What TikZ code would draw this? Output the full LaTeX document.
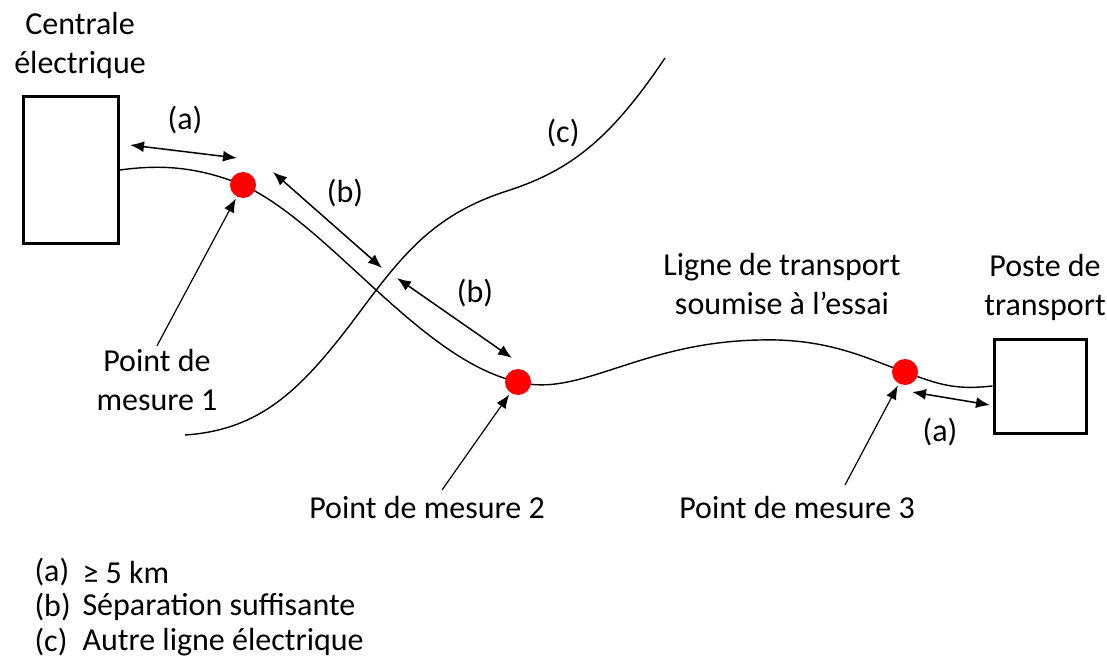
\documentclass[tikz,border=0pt]{standalone}
\usepackage{fontspec}
\setmainfont{Carlito}
\usetikzlibrary{arrows.meta}
\begin{document}
\begin{tikzpicture}[x=1pt, y=-1pt,
  every node/.style={font=\fontsize{32}{39}\selectfont, align=center},
  box/.style={draw, line width=3pt, fill=white},
  dot/.style={circle, fill=red, minimum size=26pt, inner sep=0pt},
  dim/.style={line width=1.5pt, {Latex[length=14pt,width=11pt]}-{Latex[length=14pt,width=11pt]}},
  pointer/.style={line width=1.2pt, -{Latex[length=14pt,width=11pt]}, shorten >=2pt}]
\useasboundingbox (0,0) rectangle (1107,660);
% boxes
\node[box, minimum width=95pt, minimum height=147pt] (centrale) at (71,170) {};
\node[box, minimum width=92pt, minimum height=94pt] (poste) at (1040,386) {};
\node (tcentrale) at (80,45) {Centrale\\électrique};
\node (tposte) at (1045,287) {Poste de\\transport};
\node (tligne) at (782,284) {Ligne de transport\\soumise à l’essai};
% other line (c)
\draw[line width=1.4pt] (185,435) .. controls (260,430) and (300,390) .. (350,325)
  .. controls (400,258) and (430,215) .. (510,190)
  .. controls (570,170) and (610,140) .. (665,58);
\node (tc) at (563,133) {(c)};
% line under test
\coordinate (top) at (760,340);
\coordinate (m1c) at (243,185);
\coordinate (m2c) at (518,382);
\coordinate (m3c) at (905,372);
\draw[line width=1.4pt] (centrale.east) .. controls (170,163) and (205,170) .. (m1c)
  .. controls (330,225) and (420,360) .. (m2c)
  .. controls (580,398) and (640,342) .. (top)
  .. controls (830,338) and (870,360) .. (m3c)
  .. controls (940,385) and (955,390) .. (poste.west);
\node[dot] (m1) at (m1c) {};
\node[dot] (m2) at (m2c) {};
\node[dot] (m3) at (m3c) {};
% distances
\coordinate (a1) at (130,145); \coordinate (a2) at (237,158);
\coordinate (b1) at (273,172); \coordinate (b2) at (382,268);
\coordinate (b3) at (397,278); \coordinate (b4) at (512,358);
\coordinate (a3) at (912,392); \coordinate (a4) at (990,405);
\draw[dim] (a1) -- (a2);
\draw[dim] (b1) -- (b2);
\draw[dim] (b3) -- (b4);
\draw[dim] (a3) -- (a4);
\node (ta1) at (185,120) {(a)};
\node (tb1) at (345,193) {(b)};
\node (tb2) at (475,293) {(b)};
\node (ta2) at (940,432) {(a)};
% measuring points
\node (p1) at (157,380) {Point de\\mesure 1};
\node (p2) at (427,508) {Point de mesure 2};
\node (p3) at (797,508) {Point de mesure 3};
\coordinate (p2s) at (442,490);
\coordinate (p3s) at (845,485);
\draw[pointer] (p1.north) -- (m1);
\draw[pointer] (p2s) -- (m2);
\draw[pointer] (p3s) -- (m3);
% legend
\foreach \k/\t [count=\i] in {a/≥ 5 km, b/Séparation suffisante, c/Autre ligne électrique} {
  \node[anchor=west] (la\i) at (31,537+35*\i) {(\k)};
  \node[anchor=west] (lt\i) at (79,537+35*\i) {\t};
}
\end{tikzpicture}
\end{document}
